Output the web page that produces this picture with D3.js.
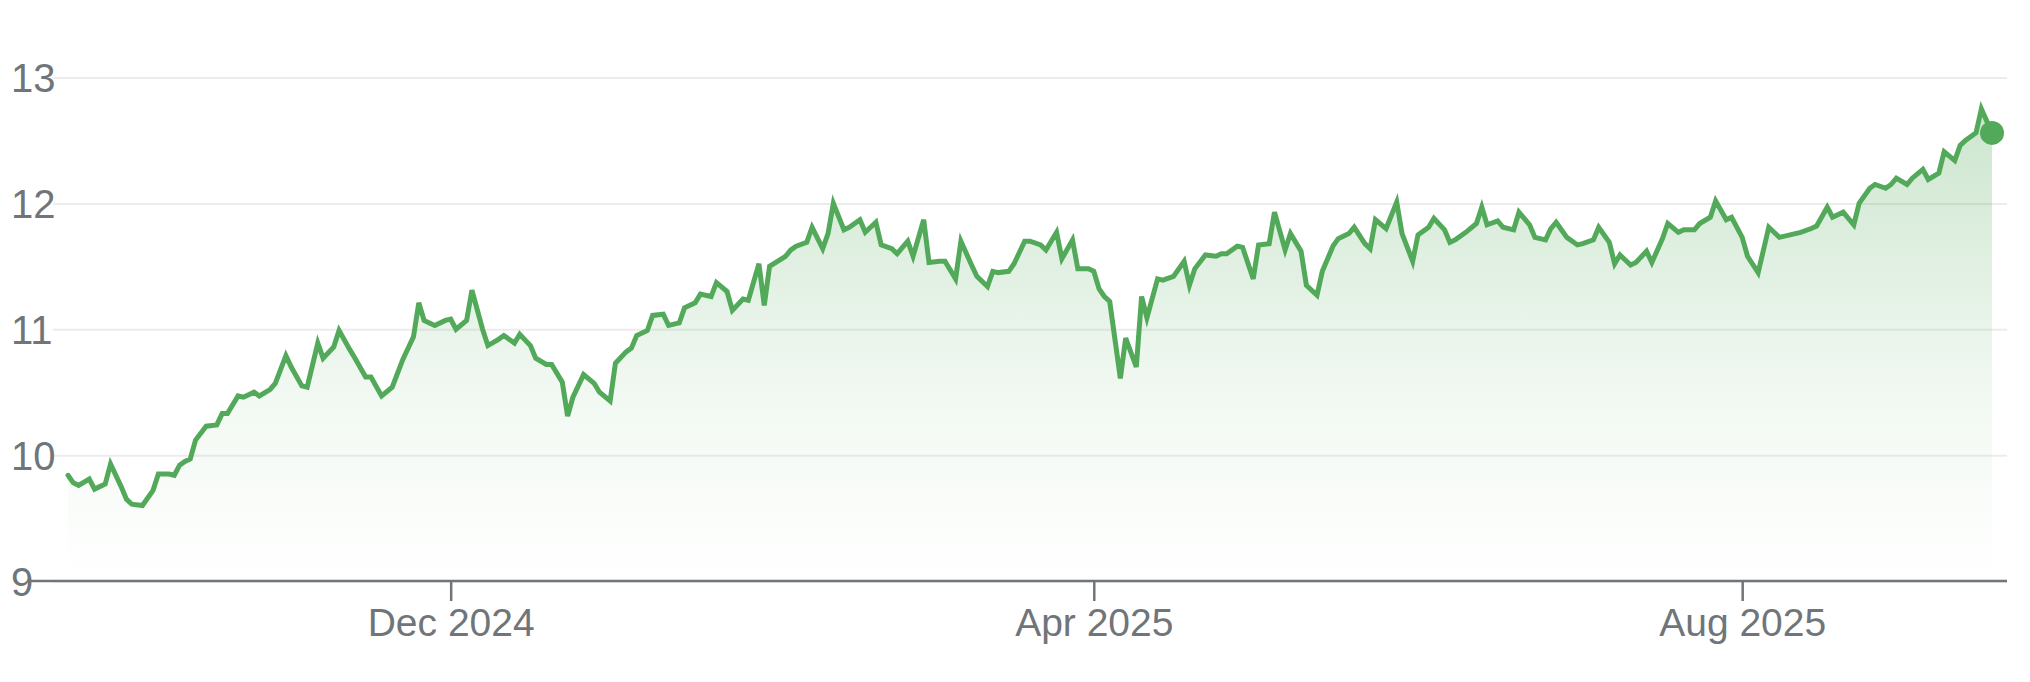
<!DOCTYPE html>
<html>
<head>
<meta charset="utf-8">
<script src="https://cdn.jsdelivr.net/npm/d3@7"></script>
<style>
  html, body { margin: 0; padding: 0; background: #fff; }
  svg { display: block; font-family: Arial, "Liberation Sans", Helvetica, sans-serif; }
</style>
</head>
<body>
<script>
// price history (vertices of the line)
var dates = [
  "2024-09-20","2024-09-21","2024-09-22","2024-09-24","2024-09-25","2024-09-27","2024-09-28","2024-09-30",
  "2024-10-01","2024-10-02","2024-10-04","2024-10-06","2024-10-07","2024-10-09","2024-10-10","2024-10-11",
  "2024-10-12","2024-10-13","2024-10-14","2024-10-16","2024-10-18","2024-10-19","2024-10-20","2024-10-22",
  "2024-10-23","2024-10-25","2024-10-26","2024-10-28","2024-10-29","2024-10-31",
  "2024-11-01","2024-11-03","2024-11-04","2024-11-06","2024-11-07","2024-11-09","2024-11-10","2024-11-12",
  "2024-11-13","2024-11-15","2024-11-16","2024-11-18","2024-11-20","2024-11-22","2024-11-24","2024-11-25",
  "2024-11-26","2024-11-28","2024-11-30",
  "2024-12-01","2024-12-02","2024-12-04","2024-12-05","2024-12-07","2024-12-08","2024-12-10","2024-12-11",
  "2024-12-13","2024-12-14","2024-12-16","2024-12-17","2024-12-19","2024-12-20","2024-12-22","2024-12-23",
  "2024-12-24","2024-12-26","2024-12-28","2024-12-29","2024-12-31",
  "2025-01-01","2025-01-03","2025-01-04","2025-01-05","2025-01-07","2025-01-08","2025-01-10","2025-01-11",
  "2025-01-13","2025-01-14","2025-01-16","2025-01-17","2025-01-19","2025-01-20","2025-01-22","2025-01-23",
  "2025-01-25","2025-01-26","2025-01-28","2025-01-29","2025-01-30",
  "2025-02-02","2025-02-03","2025-02-04","2025-02-06","2025-02-07","2025-02-09","2025-02-10","2025-02-11",
  "2025-02-13","2025-02-14","2025-02-16","2025-02-17","2025-02-19","2025-02-20","2025-02-22","2025-02-23",
  "2025-02-25","2025-02-26","2025-02-28",
  "2025-03-01","2025-03-03","2025-03-04","2025-03-06","2025-03-07","2025-03-09","2025-03-10","2025-03-12",
  "2025-03-13","2025-03-14","2025-03-16","2025-03-17","2025-03-19","2025-03-20","2025-03-22","2025-03-23",
  "2025-03-25","2025-03-26","2025-03-28","2025-03-29","2025-03-31",
  "2025-04-01","2025-04-02","2025-04-03","2025-04-04","2025-04-06","2025-04-07","2025-04-09","2025-04-10",
  "2025-04-11","2025-04-13","2025-04-14","2025-04-16","2025-04-18","2025-04-19","2025-04-20","2025-04-22",
  "2025-04-24","2025-04-25","2025-04-26","2025-04-28","2025-04-29",
  "2025-05-01","2025-05-02","2025-05-04","2025-05-05","2025-05-07","2025-05-08","2025-05-10","2025-05-11",
  "2025-05-13","2025-05-14","2025-05-16","2025-05-17","2025-05-19","2025-05-20","2025-05-22","2025-05-23",
  "2025-05-24","2025-05-26","2025-05-28","2025-05-29","2025-05-31",
  "2025-06-01","2025-06-03","2025-06-04","2025-06-06","2025-06-07","2025-06-08","2025-06-10","2025-06-12",
  "2025-06-13","2025-06-14","2025-06-16","2025-06-17","2025-06-19","2025-06-20","2025-06-22","2025-06-23",
  "2025-06-25","2025-06-26","2025-06-27","2025-06-29",
  "2025-07-01","2025-07-02","2025-07-04","2025-07-05","2025-07-07","2025-07-08","2025-07-09","2025-07-11",
  "2025-07-12","2025-07-14","2025-07-15","2025-07-17","2025-07-18","2025-07-20","2025-07-21","2025-07-23",
  "2025-07-24","2025-07-26","2025-07-27","2025-07-29","2025-07-30",
  "2025-08-01","2025-08-02","2025-08-04","2025-08-05","2025-08-06","2025-08-08","2025-08-10","2025-08-11",
  "2025-08-12","2025-08-14","2025-08-15","2025-08-17","2025-08-18","2025-08-20","2025-08-22","2025-08-23",
  "2025-08-25","2025-08-26","2025-08-28","2025-08-29","2025-08-30",
  "2025-09-01","2025-09-02","2025-09-04","2025-09-05","2025-09-07","2025-09-08","2025-09-10","2025-09-11",
  "2025-09-12","2025-09-14","2025-09-15","2025-09-17"
];

var prices = [
  9.84, 9.78, 9.76, 9.81, 9.73, 9.77, 9.93, 9.75,
  9.65, 9.61, 9.60, 9.72, 9.85, 9.85, 9.84, 9.92,
  9.95, 9.97, 10.12, 10.23, 10.24, 10.33, 10.33, 10.47,
  10.46, 10.50, 10.47, 10.52, 10.57, 10.79,
  10.70, 10.55, 10.54, 10.89, 10.77, 10.86, 10.99, 10.84,
  10.77, 10.62, 10.62, 10.47, 10.54, 10.76, 10.94, 11.21,
  11.07, 11.03, 11.07,
  11.08, 11.00, 11.07, 11.31, 11.00, 10.87, 10.92, 10.95,
  10.89, 10.96, 10.87, 10.77, 10.72, 10.72, 10.58, 10.31,
  10.46, 10.64, 10.57, 10.50, 10.43,
  10.73, 10.82, 10.85, 10.95, 10.99, 11.11, 11.12, 11.03,
  11.05, 11.17, 11.21, 11.28, 11.26, 11.37, 11.30, 11.15,
  11.24, 11.23, 11.52, 11.19, 11.50,
  11.58, 11.63, 11.66, 11.69, 11.81, 11.64, 11.76, 12.00,
  11.79, 11.81, 11.87, 11.77, 11.85, 11.67, 11.64, 11.60,
  11.70, 11.58, 11.87,
  11.53, 11.54, 11.54, 11.40, 11.70, 11.51, 11.42, 11.34,
  11.46, 11.45, 11.46, 11.52, 11.70, 11.70, 11.67, 11.63,
  11.77, 11.56, 11.71, 11.48, 11.48,
  11.46, 11.32, 11.26, 11.22, 10.61, 10.93, 10.70, 11.26,
  11.09, 11.40, 11.39, 11.42, 11.54, 11.35, 11.48, 11.59,
  11.58, 11.60, 11.60, 11.66, 11.65,
  11.40, 11.67, 11.68, 11.93, 11.63, 11.76, 11.62, 11.35,
  11.27, 11.46, 11.66, 11.72, 11.76, 11.81, 11.68, 11.64,
  11.87, 11.80, 12.01, 11.76, 11.54,
  11.75, 11.81, 11.88, 11.79, 11.69, 11.71, 11.77, 11.84,
  11.97, 11.83, 11.86, 11.81, 11.79, 11.93, 11.83, 11.73,
  11.71, 11.80, 11.85, 11.73,
  11.67, 11.68, 11.71, 11.81, 11.69, 11.52, 11.59, 11.51,
  11.53, 11.62, 11.53, 11.72, 11.84, 11.77, 11.79, 11.79,
  11.84, 11.89, 12.02, 11.87, 11.89,
  11.73, 11.58, 11.45, 11.63, 11.81, 11.73, 11.75, 11.76,
  11.77, 11.80, 11.82, 11.97, 11.89, 11.93, 11.83, 12.00,
  12.12, 12.15, 12.12, 12.15, 12.20,
  12.15, 12.20, 12.27, 12.19, 12.24, 12.41, 12.34, 12.46,
  12.50, 12.56, 12.75, 12.56
];

var yTicks = [9, 10, 11, 12, 13];
var xTicks = ["2024-12-01", "2025-04-01", "2025-08-01"];

var width = 2030,
    height = 682,
    green = "#53a95a",
    grey = "#70757a";

var parseDate = d3.timeParse("%Y-%m-%d");
var data = dates.map(function (d, i) {
    return { date: parseDate(d), value: prices[i] };
});

var x = d3.scaleTime()
    .domain(d3.extent(data, function (d) { return d.date; }))
    .range([68, 1992]);

var y = d3.scaleLinear()
    .domain([9, 13])
    .range([581, 77.5]);

var svg = d3.select("body").append("svg")
    .attr("width", width)
    .attr("height", height);

var defs = svg.append("defs");
var grad = defs.append("linearGradient")
    .attr("id", "fade")
    .attr("gradientUnits", "userSpaceOnUse")
    .attr("x1", 0).attr("x2", 0)
    .attr("y1", y(12.8)).attr("y2", y(9));
grad.append("stop").attr("offset", 0).attr("stop-color", green).attr("stop-opacity", 0.3);
grad.append("stop").attr("offset", 0.6).attr("stop-color", green).attr("stop-opacity", 0.08);
grad.append("stop").attr("offset", 1).attr("stop-color", green).attr("stop-opacity", 0);

// horizontal grid + value labels
var yAxis = svg.append("g")
    .attr("transform", "translate(53,0)")
    .call(d3.axisLeft(y).tickValues(yTicks).tickSize(-1954).tickFormat(d3.format("d")));
yAxis.select(".domain").remove();
yAxis.selectAll(".tick line")
    .attr("stroke", "#ececec")
    .attr("stroke-width", 2);
yAxis.selectAll(".tick text")
    .attr("x", -42)
    .attr("dy", "0.36em")
    .attr("text-anchor", "start")
    .attr("fill", grey)
    .style("font-size", "40px");

// area under the line
var area = d3.area()
    .x(function (d) { return x(d.date); })
    .y0(y(9))
    .y1(function (d) { return y(d.value); });

svg.append("path")
    .datum(data)
    .attr("d", area)
    .attr("fill", "url(#fade)");

// baseline + month ticks
svg.append("line")
    .attr("x1", 30).attr("x2", 2007)
    .attr("y1", y(9)).attr("y2", y(9))
    .attr("stroke", grey)
    .attr("stroke-width", 2.5);

var xAxis = svg.append("g")
    .attr("transform", "translate(0," + y(9) + ")")
    .call(d3.axisBottom(x)
        .tickValues(xTicks.map(parseDate))
        .tickSize(20)
        .tickPadding(7)
        .tickFormat(d3.timeFormat("%b %Y")));
xAxis.select(".domain").remove();
xAxis.selectAll(".tick line")
    .attr("stroke", grey)
    .attr("stroke-width", 2.5);
xAxis.selectAll(".tick text")
    .attr("fill", grey)
    .style("font-size", "39px");

// price line
var line = d3.line()
    .x(function (d) { return x(d.date); })
    .y(function (d) { return y(d.value); });

svg.append("path")
    .datum(data)
    .attr("d", line)
    .attr("fill", "none")
    .attr("stroke", green)
    .attr("stroke-width", 5)
    .attr("stroke-linecap", "round");

// last value marker
var last = data[data.length - 1];
svg.append("circle")
    .attr("cx", x(last.date))
    .attr("cy", y(last.value))
    .attr("r", 12)
    .attr("fill", green);
</script>
</body>
</html>
